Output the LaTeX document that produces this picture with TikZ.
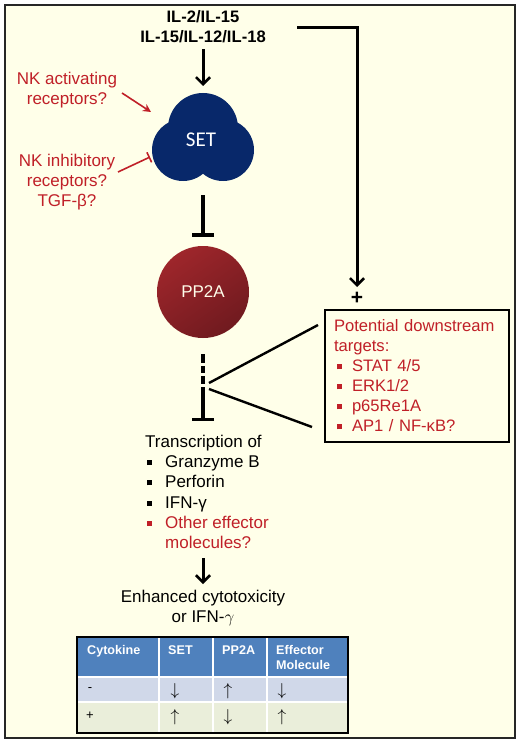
\documentclass[tikz,border=0pt]{standalone}
\usepackage{fontspec}
\setmainfont{Liberation Sans}
\newfontfamily\carlito{Carlito}
\usetikzlibrary{arrows.meta}
\definecolor{bgcream}{RGB}{255,255,233}
\definecolor{nkred}{RGB}{192,32,40}
\definecolor{setblue}{RGB}{8,40,106}
\definecolor{ppred}{RGB}{158,38,43}
\definecolor{ppdark}{RGB}{112,26,31}
\definecolor{hdrblue}{RGB}{79,129,189}
\definecolor{rowblue}{RGB}{208,216,233}
\definecolor{rowcream}{RGB}{234,238,218}
\newcommand{\sqb}{\rule[2.5pt]{5pt}{5pt}}

\begin{document}
\begin{tikzpicture}[x=1pt, y=-1pt,
    txt/.style={font=\fontsize{17}{20.2}\selectfont, align=center, inner sep=0pt},
    redtxt/.style={txt, text=nkred},
    hdr/.style={font=\bfseries\fontsize{12.6}{15}\selectfont, text=white, align=left, inner sep=0pt},
    cell/.style={font=\fontsize{17}{17}\selectfont, inner sep=0pt},
    actarrow/.style={-{Straight Barb[length=7pt, width=14pt, line width=2.6pt]}, line width=3pt},
    inhib/.style={-{Bar[width=22pt]}, line width=3.4pt},
]
    \useasboundingbox (0,0) rectangle (520,746);

    % Rahmen und Hintergrund
    \fill[white] (0,0) rectangle (520,746);
    \draw[fill=bgcream, draw=black!85, line width=2pt] (5,5) rectangle (515,738);

    % Zytokine oben
    \node[txt, font=\bfseries\fontsize{16.6}{20}\selectfont] (cyto) at (203,27) {IL-2/IL-15\\IL-15/IL-12/IL-18};
    \coordinate (cytoR) at (297,28);
    \coordinate (setTop) at (203,86);
    \draw[actarrow, shorten <=6pt] (cyto.south) -- (setTop);

    % SET (Wolke)
    \fill[setblue] (203,128) circle (35) (183,150) circle (31) (223,150) circle (31);
    \node[font=\carlito\fontsize{21}{21}\selectfont, text=white, inner sep=0pt] (set) at (201,140) {SET};
    \coordinate (setBot) at (203,181);

    % NK Rezeptoren links
    \node[redtxt] (nkact) at (67,90) {NK activating\\receptors?};
    \node[redtxt] (nkinh) at (67,182) {NK inhibitory\\receptors?\\TGF-β?};
    \coordinate (actStart) at (122,93);
    \coordinate (actEnd) at (151,112);
    \coordinate (inhStart) at (118,172);
    \coordinate (inhEnd) at (150,157);
    \draw[nkred, line width=1.6pt, -{Stealth[length=8pt, width=8pt]}] (actStart) -- (actEnd);
    \draw[nkred, line width=1.6pt, -{Bar[width=11pt]}] (inhStart) -- (inhEnd);

    % PP2A
    \node[circle, minimum size=92pt, inner sep=0pt, top color=ppred, bottom color=ppdark, shading angle=35,
          text=white!92!yellow, font=\fontsize{17}{17}\selectfont] (pp2a) at (203,292) {PP2A};
    \draw[inhib, shorten <=14pt, shorten >=9pt] (setBot) -- (pp2a.north);

    % Signal rechts zu den Zielen
    \node[draw, line width=2.4pt, text=nkred, text width=166pt, align=left, inner xsep=9pt, inner ysep=0pt,
          minimum height=132pt, font=\fontsize{16.6}{20}\selectfont] (targets) at (417,376)
        {Potential downstream\\
         targets:\\
         \hspace*{3pt}\sqb\hspace{10pt}STAT 4/5\\
         \hspace*{3pt}\sqb\hspace{10pt}ERK1/2\\
         \hspace*{3pt}\sqb\hspace{10pt}p65Re1A\\
         \hspace*{3pt}\sqb\hspace{10pt}AP1 / NF-κB?};
    \coordinate (plusTop) at (357,287);
    \draw[actarrow] (cytoR) -| (plusTop);
    \node[txt, font=\bfseries\fontsize{21}{21}\selectfont] (plus) at (357,298) {+};

    % Transkription
    \node[txt, align=left, anchor=north west] (trans) at (145,435)
        {Transcription of\\
         \hspace*{2pt}\sqb\hspace{13pt}Granzyme B\\
         \hspace*{2pt}\sqb\hspace{13pt}Perforin\\
         \hspace*{2pt}\sqb\hspace{13pt}IFN-γ\\
         \color{nkred}\hspace*{2pt}\sqb\hspace{13pt}Other effector\\
         \color{nkred}\hspace*{20pt}molecules?};

    % gestrichelte Hemmung und Verzweigung
    \draw[inhib, dash pattern=on 9pt off 3pt on 7pt off 3pt on 8pt off 3pt on 60pt, shorten <=16pt]
        (pp2a.south) -- (pp2a.south |- 0,421);
    \coordinate (forkA) at (209,383);
    \coordinate (forkB) at (209,389);
    \coordinate (tgA) at (318,325);
    \coordinate (tgB) at (312,427);
    \draw[line width=2.4pt] (forkA) -- (tgA);
    \draw[line width=2.4pt] (forkB) -- (tgB);

    % Ergebnis
    \node[txt] (enh) at (203,608) {Enhanced cytotoxicity\\or IFN-$\gamma$};
    \coordinate (enhTop) at (203,584);
    \draw[actarrow] (203,558) -- (enhTop);

    % Tabelle
    \fill[hdrblue] (77,637) rectangle (348,676);
    \fill[rowblue] (77,676) rectangle (348,702);
    \fill[rowcream] (77,702) rectangle (348,733);
    \foreach \xc in {159,213,267} \draw[white, line width=1.6pt] (\xc,637) -- (\xc,733);
    \draw[white, line width=2.4pt] (77,677) -- (348,677);
    \draw[white, line width=1.2pt] (77,702) -- (348,702);
    \draw[line width=2pt] (77,637) rectangle (348,733);
    \foreach \xl/\hd [count=\i] in {87/Cytokine, 168/SET, 222/PP2A, 276/{Effector\\Molecule}}
        \node[hdr, anchor=north west] (hd\i) at (\xl,645) {\hd};
    \node[cell, font=\fontsize{13}{13}\selectfont] (minus) at (90,690) {-};
    \node[cell, font=\fontsize{13}{13}\selectfont] (pluscell) at (90,716) {+};
    \foreach \xc/\ra/\rb [count=\i] in {175/\downarrow/\uparrow, 228/\uparrow/\downarrow, 282/\downarrow/\uparrow} {
        \node[cell] (ra\i) at (\xc,691) {$\ra$};
        \node[cell] (rb\i) at (\xc,717) {$\rb$};
    }
\end{tikzpicture}
\end{document}
